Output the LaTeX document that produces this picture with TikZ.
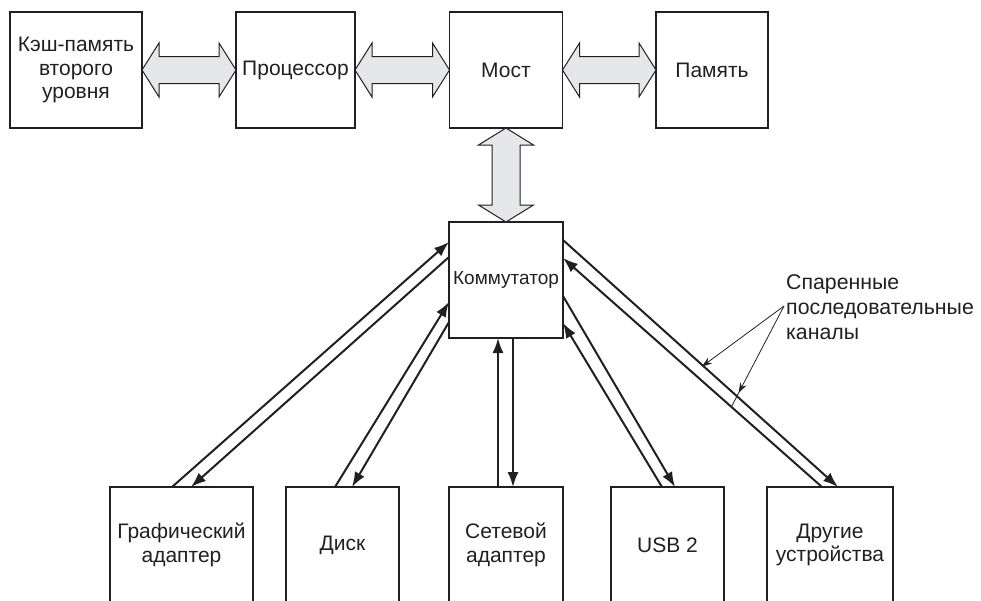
\documentclass[tikz,border=0pt]{standalone}
\usepackage{fontspec}
\setmainfont{Liberation Sans}
\usetikzlibrary{calc,arrows.meta,decorations.markings}
\definecolor{ink}{RGB}{35,31,32}
\definecolor{fatfill}{RGB}{230,231,232}
\begin{document}
\begin{tikzpicture}[x=1pt,y=-1pt,
  box/.style={draw=ink, line width=1.1pt, inner sep=0pt, outer sep=0pt,
    minimum height=116pt, align=center, text=ink,
    font=\fontsize{21}{23.5}\selectfont},
  fat/.style={draw=ink, fill=fatfill, line width=1pt, line join=miter},
  fatH/.style={to path={-- ++(17,-27) -- ++(0,13.5)
     -- ($(\tikztotarget)+(-17,-13.5)$) -- ++(0,-13.5) -- (\tikztotarget)
     -- ++(-17,27) -- ++(0,-13.5) -- ($(\tikztostart)+(17,13.5)$)
     -- ++(0,13.5) -- cycle}},
  fatV/.style={to path={-- ++(27.5,17) -- ++(-13.5,0)
     -- ($(\tikztotarget)+(14,-17)$) -- ++(13.5,0) -- (\tikztotarget)
     -- ++(-27.5,-17) -- ++(13.5,0) -- ($(\tikztostart)+(-14,17)$)
     -- ++(-13.5,0) -- cycle}},
  conn/.style={draw=ink, line width=2pt, -{Latex[length=15pt,width=11pt]}},
  ptr/.style={draw=ink, line width=0.8pt},
  note/.style={align=left, text=ink, inner sep=0pt, font=\fontsize{21.3}{25}\selectfont}
]
\clip (0,0) rectangle (981,600);

% top row
\node[box, minimum width=132pt] (cache)  at (76,70)    {Кэш-память\\второго\\уровня};
\node[box, minimum width=119pt] (cpu)    at (295.5,70) {Процессор};
\node[box, minimum width=113pt] (bridge) at (506,70)   {Мост};
\node[box, minimum width=112pt] (mem)    at (712,70)   {Память};

% switch
\node[box, minimum width=114pt, font=\fontsize{19}{22}\selectfont] (sw) at (506,280) {Коммутатор};

% bottom row
\node[box, minimum width=143pt] (gfx)   at (181.5,545) {Графический\\адаптер};
\node[box, minimum width=113pt] (disk)  at (342.5,545) {Диск};
\node[box, minimum width=114pt] (net)   at (506,545)   {Сетевой\\адаптер};
\node[box, minimum width=113pt] (usb)   at (667.5,545) {USB 2};
\node[box, minimum width=126pt] (other) at (830,545)   {Другие\\устройства};

% fat bus arrows
\draw[fat] (cache.east)  to[fatH] (cpu.west);
\draw[fat] (cpu.east)    to[fatH] (bridge.west);
\draw[fat] (bridge.east) to[fatH] (mem.west);
\draw[fat] (bridge.south) to[fatV] (sw.north);

% serial links
\draw[conn] ([xshift=62pt]gfx.north west) -- ([yshift=-20pt]sw.north west);
\draw[conn] ([yshift=-35pt]sw.north west) -- ([xshift=81pt]gfx.north west);
\draw[conn] ([xshift=49pt]disk.north west) -- ([yshift=-80pt]sw.north west);
\draw[conn] ([yshift=-100pt]sw.north west) -- ([xshift=66pt]disk.north west);
\draw[conn] ([xshift=-8pt]net.north) -- ([xshift=-8pt]sw.south);
\draw[conn] ([xshift=7pt]sw.south) -- ([xshift=7pt]net.north);
\draw[conn] ([yshift=-74pt]sw.north east) -- ([xshift=64pt]usb.north west);
\draw[conn] ([xshift=51pt]usb.north west) -- ([yshift=-101pt]sw.north east);
\draw[conn] ([yshift=-18pt]sw.north east) -- coordinate[pos=0.5] (c1) ([xshift=71pt]other.north west);
\draw[conn] ([xshift=55pt]other.north west) -- coordinate[pos=0.35] (c2) ([yshift=-36pt]sw.north east);

% annotation
\node[note, anchor=west] (lbl) at (786,307) {Спаренные\\последовательные\\каналы};
\coordinate (p0) at ([xshift=-2pt,yshift=1pt]lbl.west);
\draw[ptr, -{Stealth[length=10pt,width=7pt]}] (p0) -- ([xshift=1.5pt,yshift=-3pt]c1);
\draw[ptr, postaction={decorate}, decoration={markings,
   mark=at position 0.86 with {\arrow{Stealth[length=10pt,width=7pt]}}}] (p0) -- (c2);
\end{tikzpicture}
\end{document}
